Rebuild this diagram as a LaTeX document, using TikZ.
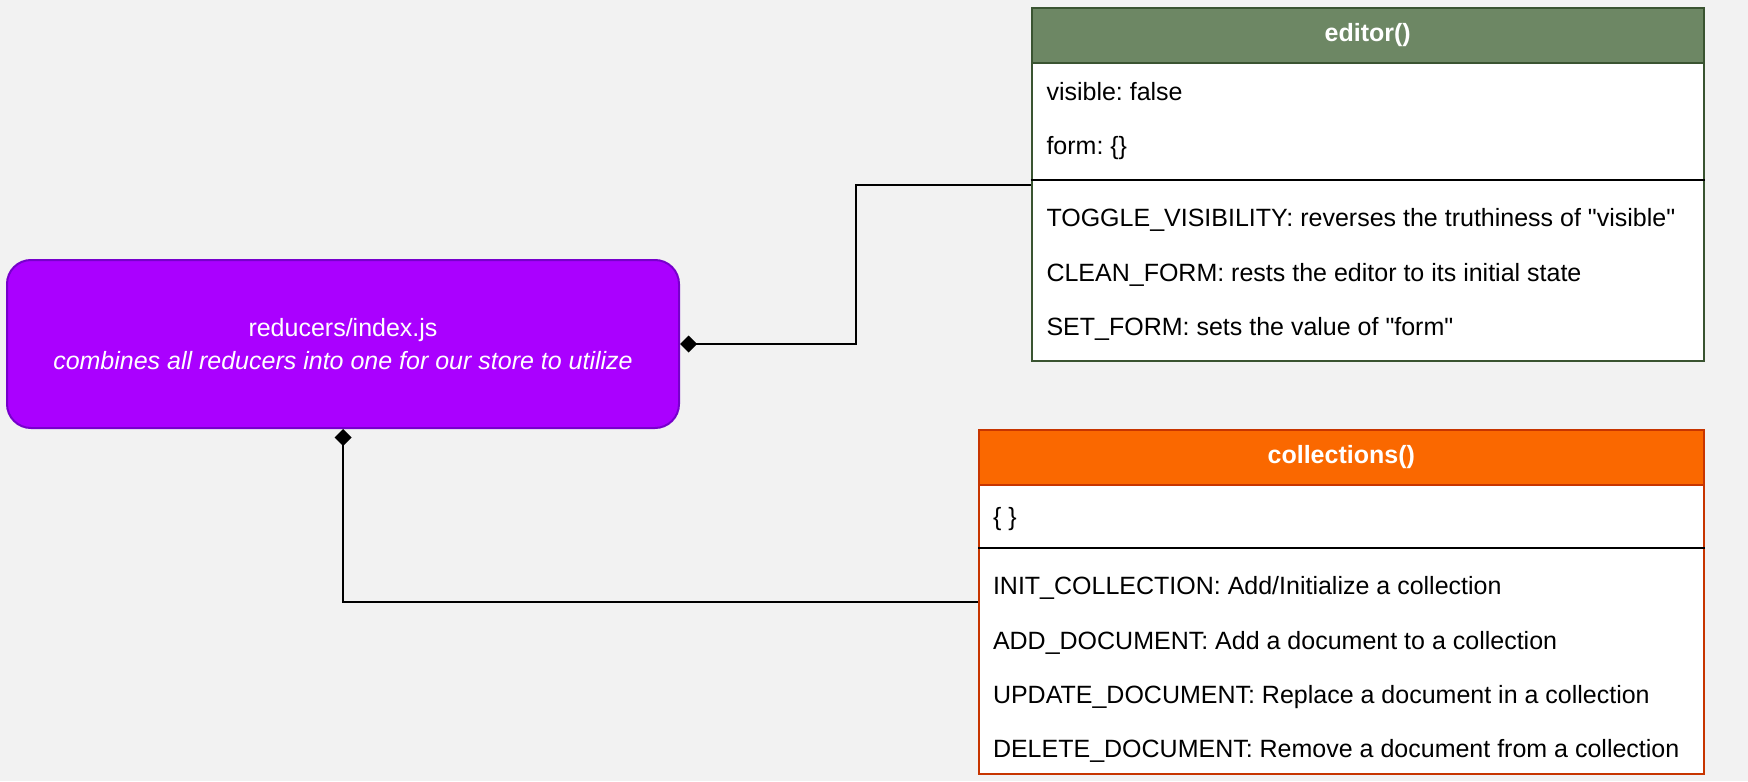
\documentclass[tikz,border=0pt]{standalone}
\usepackage{fontspec}
\setmainfont{Liberation Sans}[Ligatures=TeXOff]
\frenchspacing
\usetikzlibrary{arrows.meta,positioning}
\definecolor{bgcol}{HTML}{F2F2F2}
\definecolor{rootfill}{HTML}{AA00FF}
\definecolor{rootline}{HTML}{7700CC}
\definecolor{edfill}{HTML}{6D8764}
\definecolor{edline}{HTML}{3A5431}
\definecolor{colfill}{HTML}{FA6800}
\definecolor{colline}{HTML}{C73500}
\begin{document}
\begin{tikzpicture}
      [x=0.5pt,y=-0.5pt,line width=1pt,font=\fontsize{12.5}{14.5}\selectfont,
      root node/.style={rectangle,rounded corners=12pt,fill=rootfill,draw=rootline,
        text=white,align=center,inner sep=0pt,minimum width=336pt,minimum height=84pt,
        font=\fontsize{12.5}{16.5}\selectfont},
      class node/.style={rectangle,fill=white,inner sep=0pt},
      head node/.style={rectangle,anchor=north,inner sep=0pt,text=white,
        font=\fontsize{12.5}{14.5}\selectfont\bfseries},
      member/.style={anchor=base west,inner sep=0pt},
      link/.style={{Diamond[length=8.5pt,width=8.5pt]}-}]
      \fill[bgcol] (0,0) rectangle (1748,781);
      \node[root node] (root) at (343,344) {reducers/index.js\\\textit{combines all reducers into one for our store to utilize}};
      % editor()
      \node[class node,draw=edline,minimum width=336.1pt,minimum height=176.2pt] (editor) at (1367.7,184.5) {};
      \node[head node,fill=edfill,draw=edline,minimum width=336.1pt,minimum height=27.2pt] (edhead) at (editor.north) {editor()};
      \draw (editor.west |- 0,180.3) -- (editor.east |- 0,180.3);
      \node[member] (edvisible) at (1045.5,100.7) {visible: false};
      \node[member] (edform) at (1045.5,155) {form: \{\}};
      \node[member] (edtoggle) at (1045.5,226.7) {TOGGLE\_VISIBILITY: reverses the truthiness of "visible"};
      \node[member] (edclean) at (1045.5,281) {CLEAN\_FORM: rests the editor to its initial state};
      \node[member] (edset) at (1045.5,335.3) {SET\_FORM: sets the value of "form"};
      % collections()
      \node[class node,draw=colline,minimum width=362.25pt,minimum height=172.15pt] (collections) at (1341.25,602.15) {};
      \node[head node,fill=colfill,draw=colline,minimum width=362.25pt,minimum height=27.5pt] (colhead) at (collections.north) {collections()};
      \draw (collections.west |- 0,547.7) -- (collections.east |- 0,547.7);
      \node[member] (colstate) at (992,525) {\{ \}};
      \node[member] (colinit) at (992,594) {INIT\_COLLECTION: Add/Initialize a collection};
      \node[member] (coladd) at (992,649) {ADD\_DOCUMENT: Add a document to a collection};
      \node[member] (colupdate) at (992,703.3) {UPDATE\_DOCUMENT: Replace a document in a collection};
      \node[member] (coldelete) at (992,757.3) {DELETE\_DOCUMENT: Remove a document from a collection};
      % links
      \draw[link] (root.east) -- ++(176,0) |- (editor.west);
      \draw[link] (root.south) |- (collections.west);
    \end{tikzpicture}
\end{document}
